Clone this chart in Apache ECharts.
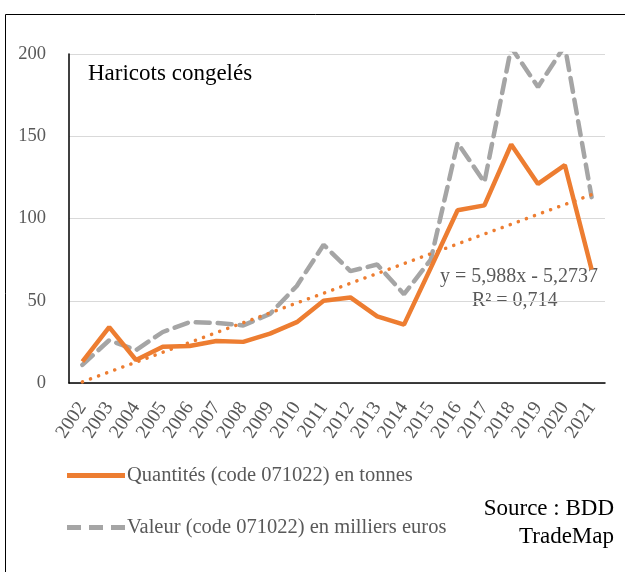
<!DOCTYPE html>
<html><head><meta charset="utf-8">
<script src="https://cdn.jsdelivr.net/npm/echarts@6/dist/echarts.min.js"></script>
<style>html,body{margin:0;padding:0;background:#fff}#c{width:625px;height:572px}</style>
</head><body><div id="c"></div>
<script>
const years = ['2002','2003','2004','2005','2006','2007','2008','2009','2010','2011','2012','2013','2014','2015','2016','2017','2018','2019','2020','2021'];
const quantites = [13, 34, 14, 22, 22.5, 25.5, 25, 30, 37, 50, 52, 40.5, 35.5, 70, 105, 108, 145, 121, 132.5, 69];
const valeur = [11, 26, 20, 31, 37, 36.5, 35, 42, 59, 84, 68, 72, 54, 75, 146, 122, 204, 180, 205, 113];
const trendEnds = [0.7, 114.5];
const yTicks = [0, 50, 100, 150, 200];
const trend = years.map((y, i) => i === 0 ? trendEnds[0] : (i === years.length - 1 ? trendEnds[1] : null));
const F = '"Liberation Serif", "Times New Roman", serif';
const chart = echarts.init(document.getElementById('c'));
chart.setOption({
  animation: false,
  backgroundColor: '#fff',
  grid: {left: 69, right: 20, top: 54, bottom: 189},
  xAxis: {
    type: 'category', data: years, boundaryGap: true,
    axisLine: {lineStyle: {color: '#000', width: 1.5}},
    axisTick: {show: false},
    axisLabel: {rotate: 56, color: '#595959', fontFamily: F, fontSize: 19.5, margin: 21, interval: 0}
  },
  yAxis: {
    type: 'value', min: yTicks[0], max: yTicks[yTicks.length - 1], interval: 50,
    axisLine: {show: true, lineStyle: {color: '#000', width: 1.5}},
    axisTick: {show: false},
    splitLine: {lineStyle: {color: '#d9d9d9', width: 1}},
    axisLabel: {color: '#595959', fontFamily: F, fontSize: 18.5, margin: 23}
  },
  legend: {
    orient: 'vertical', left: 62, top: 460, itemGap: 31, itemWidth: 58, itemHeight: 5,
    textStyle: {color: '#595959', fontFamily: F, fontSize: 20.5, padding: [0, 0, 0, -3]},
    data: [
      {name: 'Quantités (code 071022) en tonnes', icon: 'path://M0,0h58v5h-58z', itemStyle: {color: '#ed7d31'}},
      {name: 'Valeur (code 071022) en milliers euros', icon: 'path://M0,0h14v5h-14z M22,0h14v5h-14z M44,0h14v5h-14z', itemStyle: {color: '#a5a5a5'}}
    ]
  },
  series: [
    {name: 'Valeur (code 071022) en milliers euros', type: 'line', data: valeur, symbol: 'none',
     lineStyle: {color: '#a5a5a5', width: 4.5, type: [14, 8], cap: 'round'}, itemStyle: {color: '#a5a5a5'}, z: 2},
    {name: 'Quantités (code 071022) en tonnes', type: 'line', data: quantites, symbol: 'none',
     lineStyle: {color: '#ed7d31', width: 4.5}, itemStyle: {color: '#ed7d31'}, z: 3},
    {name: 'trend', type: 'line', data: trend, connectNulls: true, symbol: 'none',
     lineStyle: {color: '#ed7d31', width: 3.5, type: [0.1, 8.5], cap: 'round'}, z: 4}
  ],
  graphic: [
    {type: 'rect', shape: {x: 5.5, y: 14.5, width: 640, height: 600}, style: {fill: null, stroke: '#000', lineWidth: 1}, z: -1},
    {type: 'text', left: 88, top: 62, style: {text: 'Haricots congelés', font: '23px ' + F, fill: '#000'}},
    {type: 'text', left: 440, top: 267, style: {text: 'y = 5,988x - 5,2737', font: '20px ' + F, fill: '#595959'}},
    {type: 'text', left: 472, top: 291, style: {text: 'R² = 0,714', font: '20px ' + F, fill: '#595959'}},
    {type: 'text', right: 11, top: 497, style: {text: 'Source : BDD', font: '23px ' + F, fill: '#000', align: 'right'}},
    {type: 'text', right: 11, top: 525, style: {text: 'TradeMap', font: '23px ' + F, fill: '#000', align: 'right'}}
  ]
});
</script></body></html>
